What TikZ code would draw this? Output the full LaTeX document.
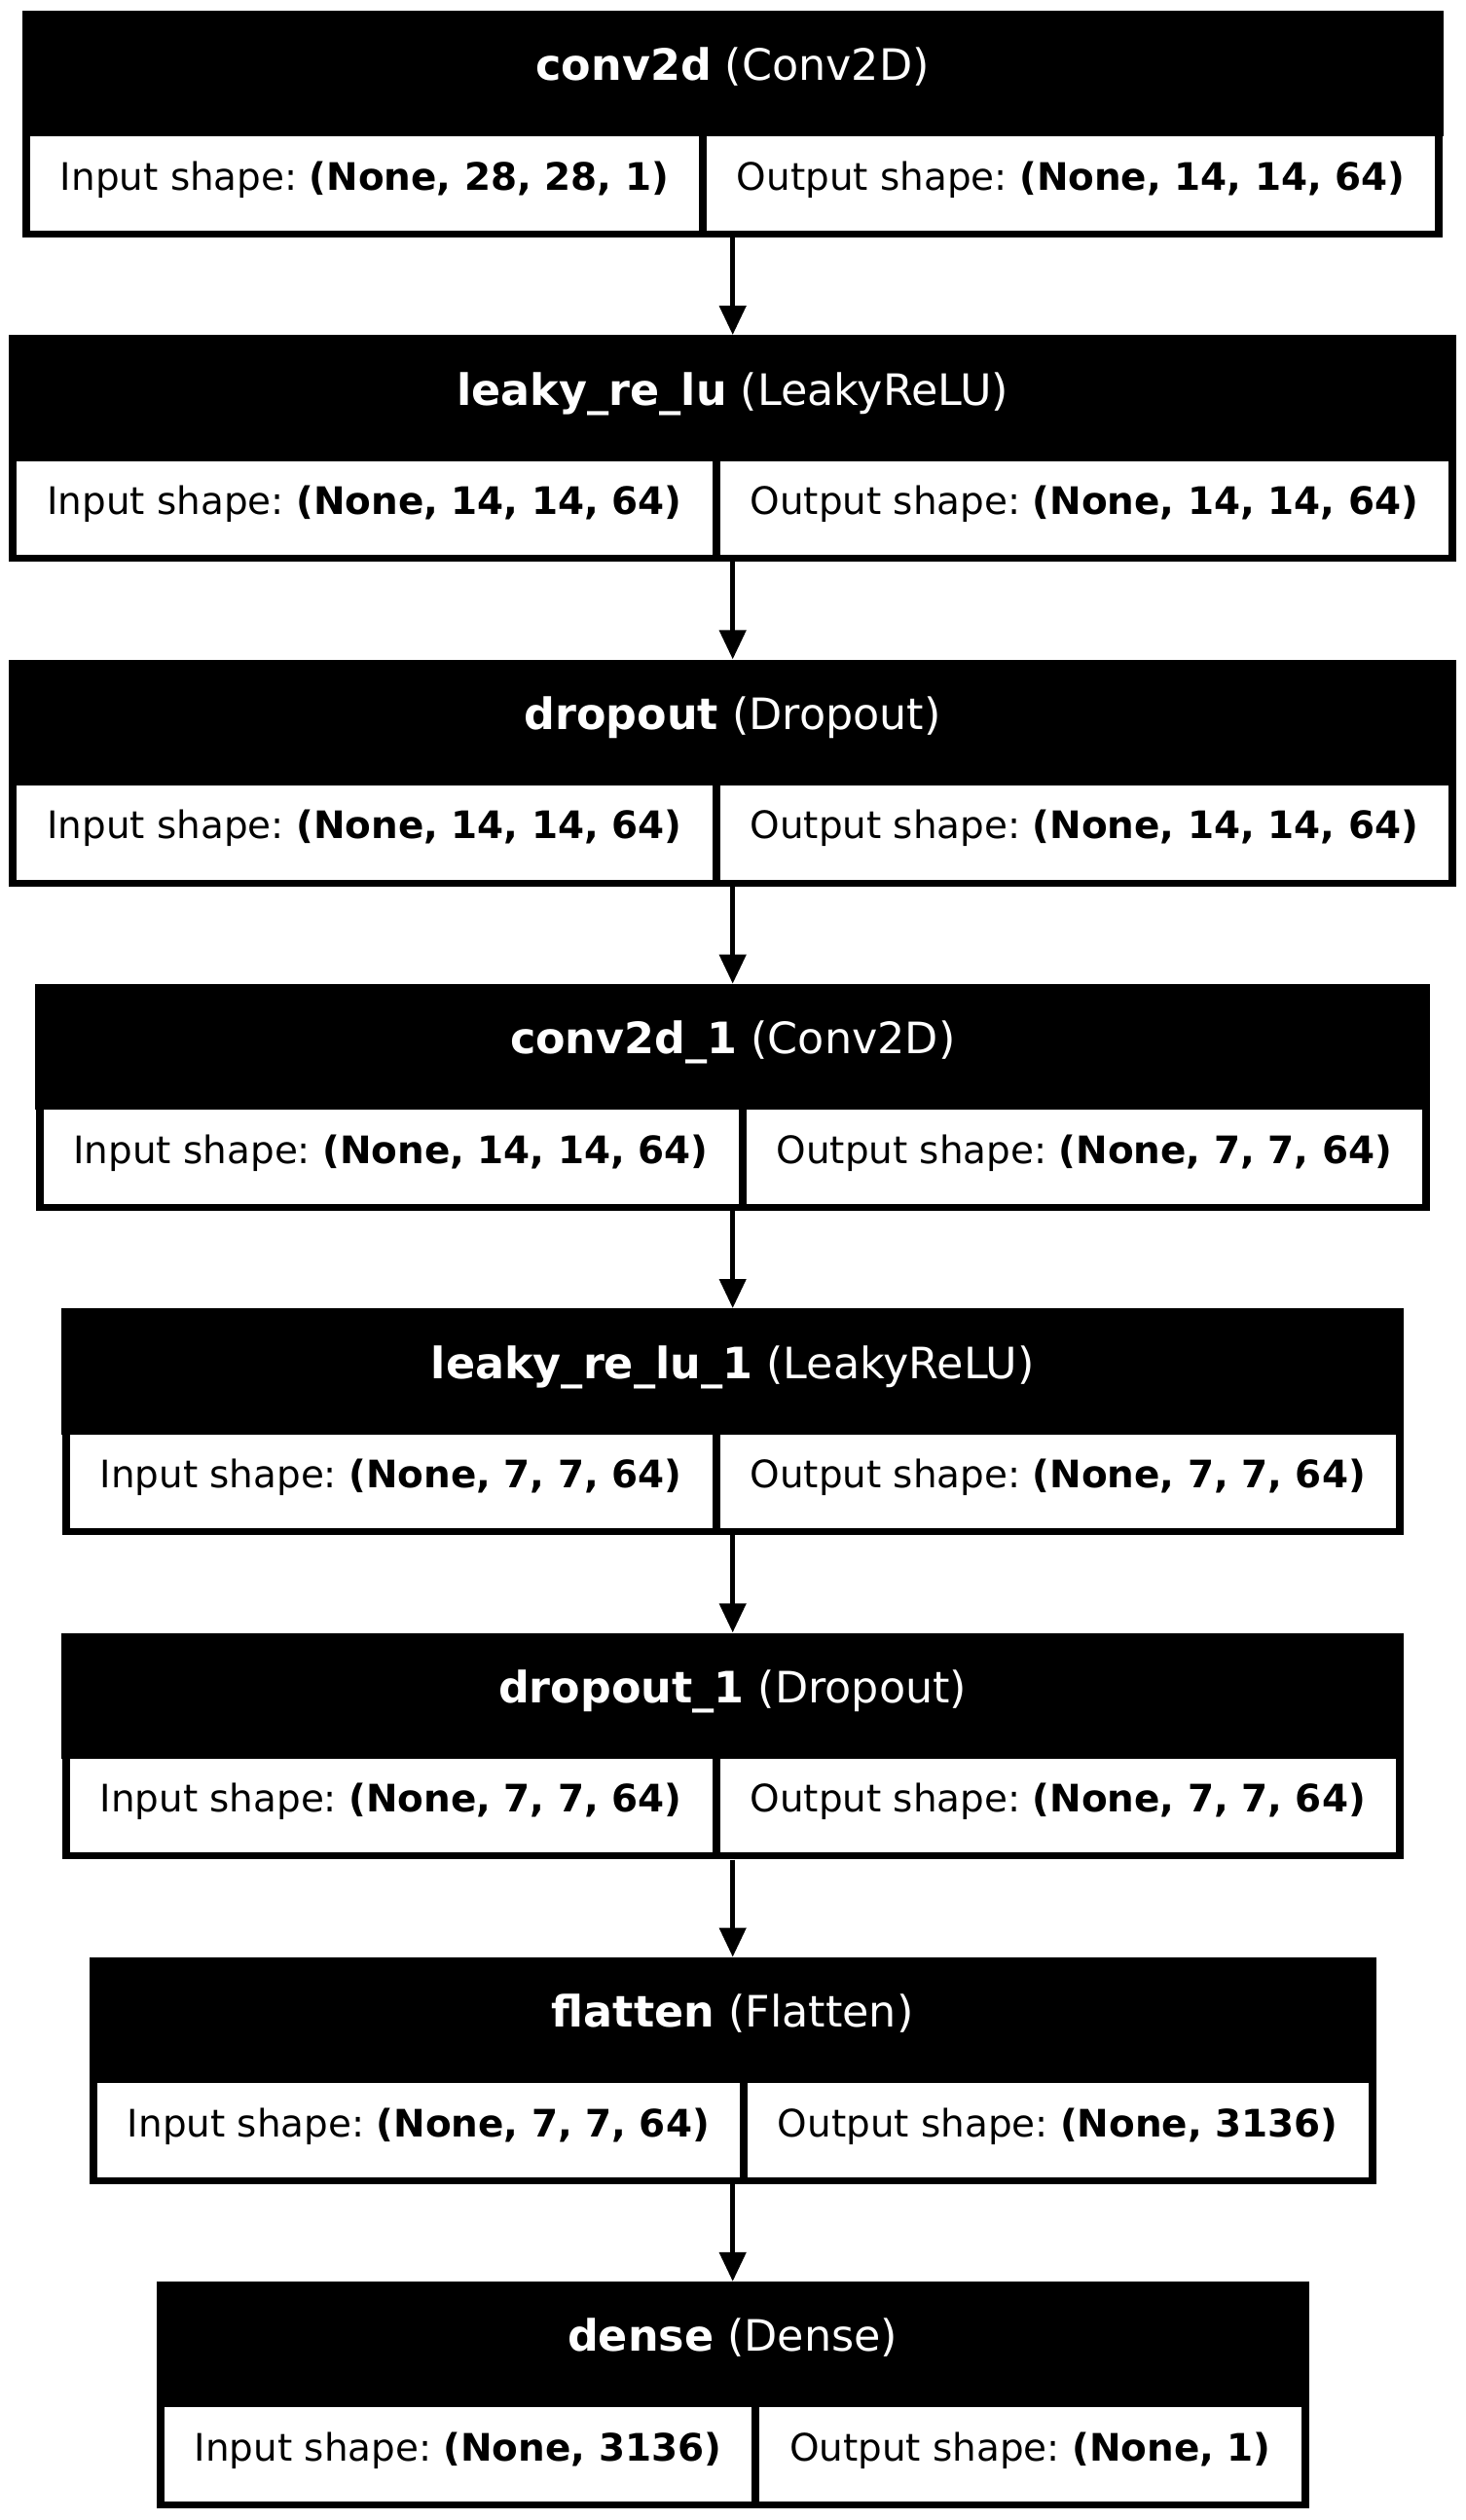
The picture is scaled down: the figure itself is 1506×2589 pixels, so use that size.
\documentclass[tikz,border=0pt]{standalone}
\usepackage{fontspec}
\setmainfont{DejaVu Sans}
\usetikzlibrary{arrows.meta,fit}
\setlength{\fboxsep}{0pt}
\frenchspacing
\newcommand\cellfnt{\fontsize{38.89pt}{46pt}\selectfont\frenchspacing}
\newcommand\headfnt{\fontsize{44.44pt}{52pt}\selectfont\frenchspacing}
\newcommand\kcell[1]{\colorbox{white}{\rule[-41.7pt]{0pt}{99.4pt}\hspace*{31pt}#1\hspace*{31pt}}}
\tikzset{
  rowbox/.style={fill=black, inner xsep=8pt, inner ysep=0pt, font=\cellfnt},
  hdrbox/.style={fill=black, inner sep=0pt},
  hdrtext/.style={text=white, inner sep=0pt, font=\headfnt},
  conn/.style={line width=5.3pt, -{Triangle[length=30pt,width=26.7pt]}}
}
\newcommand\klayer[5]{%
  \pgfmathsetmacro\celltop{-(137.3+333.3*#2)}%
  \node[rowbox, anchor=north] (#1r) at (752.7,\celltop) {\kcell{Input shape: \textbf{#4}}\hspace{8pt}\kcell{Output shape: \textbf{#5}}\rule[-48.7pt]{0pt}{1pt}};%
  \node[hdrbox, fit={([yshift=-3pt]#1r.north west)([yshift=126.3pt]#1r.north east)}] (#1h) {};%
  \node[hdrtext, anchor=base] (#1t) at ([yshift=54.5pt]#1r.north) {#3};%
}
\begin{document}
\begin{tikzpicture}[x=1pt,y=1pt]
\useasboundingbox[fill=white] (0,0) rectangle (1506,-2589);
\klayer{a}{0}{\textbf{conv2d} (Conv2D)}{(None, 28, 28, 1)}{(None, 14, 14, 64)}
\klayer{b}{1}{\textbf{leaky\_re\_lu} (LeakyReLU)}{(None, 14, 14, 64)}{(None, 14, 14, 64)}
\klayer{c}{2}{\textbf{dropout} (Dropout)}{(None, 14, 14, 64)}{(None, 14, 14, 64)}
\klayer{d}{3}{\textbf{conv2d\_1} (Conv2D)}{(None, 14, 14, 64)}{(None, 7, 7, 64)}
\klayer{e}{4}{\textbf{leaky\_re\_lu\_1} (LeakyReLU)}{(None, 7, 7, 64)}{(None, 7, 7, 64)}
\klayer{f}{5}{\textbf{dropout\_1} (Dropout)}{(None, 7, 7, 64)}{(None, 7, 7, 64)}
\klayer{g}{6}{\textbf{flatten} (Flatten)}{(None, 7, 7, 64)}{(None, 3136)}
\klayer{h}{7}{\textbf{dense} (Dense)}{(None, 3136)}{(None, 1)}
\draw[conn] (ar.south) -- (bh.north);
\draw[conn] (br.south) -- (ch.north);
\draw[conn] (cr.south) -- (dh.north);
\draw[conn] (dr.south) -- (eh.north);
\draw[conn] (er.south) -- (fh.north);
\draw[conn] (fr.south) -- (gh.north);
\draw[conn] (gr.south) -- (hh.north);
\end{tikzpicture}
\end{document}
